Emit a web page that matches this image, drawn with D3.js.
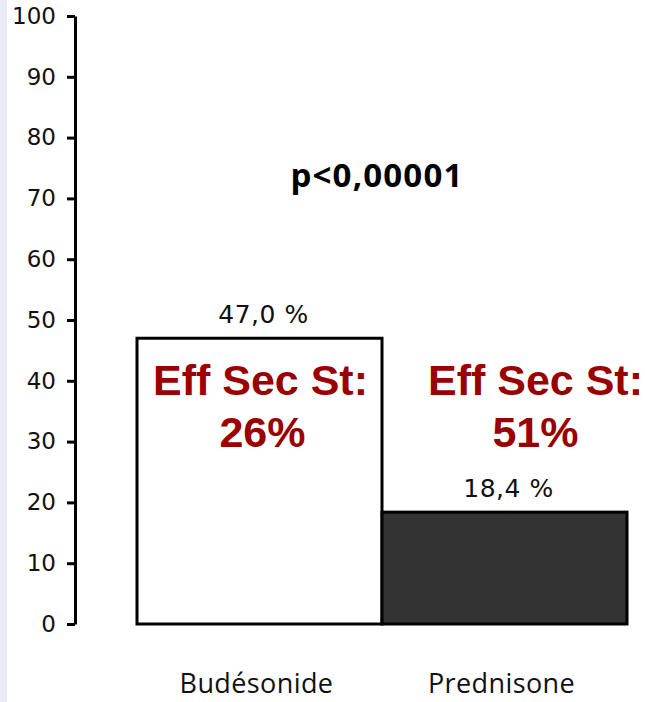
<!DOCTYPE html>
<html><head><meta charset="utf-8">
<script src="https://cdn.jsdelivr.net/npm/d3@7"></script>
<style>body{margin:0;background:#fff}svg{display:block}</style>
</head><body>
<svg id="c" width="645" height="702"></svg>
<script>
const categories = ["Budésonide", "Prednisone"];
const values = [47.0, 18.4];
const valueLabels = ["47,0 %", "18,4 %"];
const annotations = [["Eff Sec St:", "26%"], ["Eff Sec St:", "51%"]];
const barFills = ["#ffffff", "#333333"];
const yTicks = [0, 10, 20, 30, 40, 50, 60, 70, 80, 90, 100];
const pText = "p<0,00001";

const svg = d3.select("#c");
svg.append("rect").attr("x", 0).attr("y", 0).attr("width", 7).attr("height", 702).attr("fill", "#e8ecfa");

const y = d3.scaleLinear().domain([0, 100]).range([624, 16]);
const x = d3.scaleBand().domain(categories).range([137, 627]).padding(0);

const ax = svg.append("g").attr("transform", "translate(75,0)")
  .call(d3.axisLeft(y).tickValues(yTicks).tickSize(8).tickPadding(11).tickSizeOuter(0));
ax.select(".domain").attr("stroke", "#000").attr("stroke-width", 3);
ax.selectAll(".tick line").attr("stroke", "#000").attr("stroke-width", 3);
ax.selectAll(".tick text").attr("font-family", "DejaVu Sans, Verdana, sans-serif").attr("font-size", 23)
  .attr("fill", "#111");

svg.selectAll("rect.bar").data(categories).join("rect").attr("class", "bar")
  .attr("x", d => x(d)).attr("width", x.bandwidth())
  .attr("y", (d, i) => y(values[i])).attr("height", (d, i) => y(0) - y(values[i]))
  .attr("fill", (d, i) => barFills[i]).attr("stroke", "#000").attr("stroke-width", 3);

svg.selectAll("text.val").data(categories).join("text").attr("class", "val")
  .attr("x", d => x(d) + x.bandwidth() / 2 + 4).attr("y", (d, i) => y(values[i]) - 15)
  .attr("text-anchor", "middle").attr("font-family", "DejaVu Sans, Verdana, sans-serif")
  .attr("font-size", 25).attr("letter-spacing", 0.5).attr("fill", "#111").text((d, i) => valueLabels[i]);

svg.selectAll("text.cat").data(categories).join("text").attr("class", "cat")
  .attr("x", d => x(d) + x.bandwidth() / 2 - 3).attr("y", 693)
  .attr("text-anchor", "middle").attr("font-family", "Open Sans, sans-serif")
  .attr("font-size", 27).attr("letter-spacing", 0.4).attr("fill", "#111").text(d => d);

const ann = svg.selectAll("g.ann").data(categories).join("g").attr("class", "ann");
ann.append("text").attr("x", (d, i) => x(d) + x.bandwidth() / 2 + (i ? 31 : 1)).attr("y", 395)
  .attr("text-anchor", "middle").attr("font-family", "Liberation Sans, Arial, sans-serif")
  .attr("font-weight", "bold").attr("font-size", 43).attr("fill", "#9b0000").text((d, i) => annotations[i][0]);
ann.append("text").attr("x", (d, i) => x(d) + x.bandwidth() / 2 + (i ? 31 : 3)).attr("y", 447)
  .attr("text-anchor", "middle").attr("font-family", "Liberation Sans, Arial, sans-serif")
  .attr("font-weight", "bold").attr("font-size", 43).attr("fill", "#9b0000").text((d, i) => annotations[i][1]);

svg.append("text").attr("x", 377).attr("y", 187).attr("text-anchor", "middle")
  .attr("font-family", "Open Sans, sans-serif").attr("font-weight", "bold").attr("font-size", 33)
  .attr("letter-spacing", 1.2).attr("fill", "#000").text(pText);
</script>
</body></html>
